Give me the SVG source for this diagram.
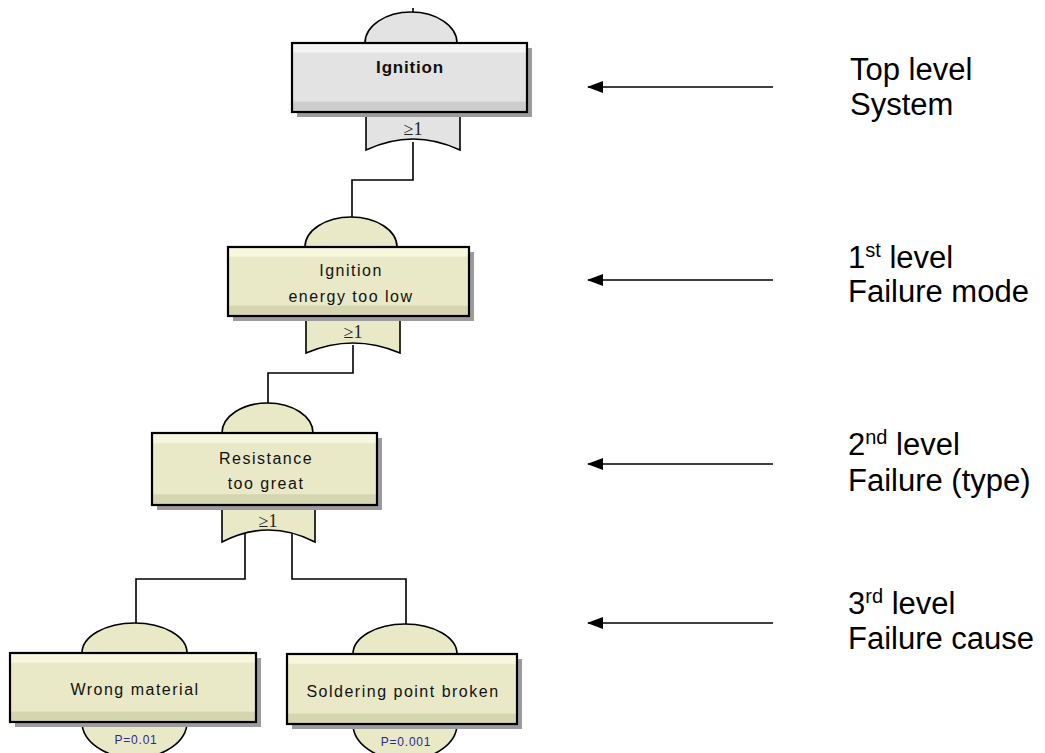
<svg xmlns="http://www.w3.org/2000/svg" width="1045" height="753" viewBox="0 0 1045 753">
<defs>
<linearGradient id="gy" x1="0" y1="0" x2="0" y2="1">
<stop offset="0" stop-color="#f7f7de"/><stop offset="0.13" stop-color="#f7f7de"/>
<stop offset="0.15" stop-color="#e9e9c7"/><stop offset="0.84" stop-color="#e9e9c7"/>
<stop offset="0.86" stop-color="#d5d5b0"/><stop offset="1" stop-color="#d5d5b0"/>
</linearGradient>
<linearGradient id="gg" x1="0" y1="0" x2="0" y2="1">
<stop offset="0" stop-color="#f4f4f4"/><stop offset="0.13" stop-color="#f4f4f4"/>
<stop offset="0.15" stop-color="#e3e3e3"/><stop offset="0.84" stop-color="#e3e3e3"/>
<stop offset="0.86" stop-color="#cdcdcd"/><stop offset="1" stop-color="#cdcdcd"/>
</linearGradient>
<marker id="ah" viewBox="0 0 16 12" refX="15" refY="6" markerWidth="16" markerHeight="12" markerUnits="userSpaceOnUse" orient="auto">
<path d="M0,0 L16,6 L0,12 Z" fill="#000"/>
</marker>
</defs>
<style>
.shape{stroke:#000;stroke-width:1.6}
.yel{fill:#e9e9c7}
.gry{fill:#e3e3e3}
.box{stroke:#000;stroke-width:2.2}
.shadow{fill:#9c9c9c}
.lbl{font-family:"Liberation Sans",Arial,sans-serif;font-size:16px;letter-spacing:1.5px;fill:#111;text-anchor:middle}
.bold{font-weight:bold;font-size:17px;letter-spacing:0.8px}
.gate{font-family:"Liberation Serif","Times New Roman",serif;font-size:18px;fill:#222;text-anchor:middle}
.prob{font-family:"Liberation Sans",Arial,sans-serif;font-size:12px;letter-spacing:0.8px;fill:#2a2a8c;text-anchor:middle}
.lvl{font-family:"Liberation Sans",Arial,sans-serif;font-size:31px;fill:#000}
.sup{font-size:20px}
.wire{fill:none;stroke:#000;stroke-width:1.6}
.arrow{fill:none;stroke:#000;stroke-width:1.6;marker-end:url(#ah)}
</style>
<g id="connectors">
<line class="wire" x1="413" y1="8" x2="413" y2="12"/>
<polyline class="wire" points="413,142 413,180 352,180 352,217"/>
<polyline class="wire" points="353,345 353,373 268,373 268,403"/>
<polyline class="wire" points="245,533 245,579 136,579 136,623"/>
<polyline class="wire" points="292,533 292,579 406,579 406,624"/>
<line class="arrow" x1="773" y1="87" x2="588" y2="87"/>
<line class="arrow" x1="773" y1="280" x2="588" y2="280"/>
<line class="arrow" x1="773" y1="464" x2="588" y2="464"/>
<line class="arrow" x1="773" y1="623" x2="588" y2="623"/>
</g>
<g id="node-ignition">
<path class="shape gry" d="M366,110 L366,150 Q413,128 460,150 L460,110 Z"/>
<path class="shape gry" d="M365,43 A46,31 0 0 1 457,43 Z"/>
<rect class="shadow" x="297" y="48" width="235" height="69"/>
<rect class="box" x="292" y="43" width="235" height="69" fill="url(#gg)"/>
<text class="lbl bold" x="410" y="73">Ignition</text>
<text class="gate" x="413" y="135">≥1</text>
</g>
<g id="node-energy">
<path class="shape yel" d="M306,314 L306,353 Q353,333 400,353 L400,314 Z"/>
<path class="shape yel" d="M305,247 A46,30 0 0 1 397,247 Z"/>
<rect class="shadow" x="233" y="252" width="241" height="69"/>
<rect class="box" x="228" y="247" width="241" height="69" fill="url(#gy)"/>
<text class="lbl" x="351" y="276">Ignition</text>
<text class="lbl" x="351" y="302">energy too low</text>
<text class="gate" x="353" y="338">≥1</text>
</g>
<g id="node-resistance">
<path class="shape yel" d="M222,503 L222,542 Q268.5,518 315,542 L315,503 Z"/>
<path class="shape yel" d="M222,433 A45.5,30 0 0 1 313,433 Z"/>
<rect class="shadow" x="157" y="438" width="225" height="72"/>
<rect class="box" x="152" y="433" width="225" height="72" fill="url(#gy)"/>
<text class="lbl" x="266" y="464">Resistance</text>
<text class="lbl" x="266" y="489">too great</text>
<text class="gate" x="268" y="527">≥1</text>
</g>
<g id="node-material">
<path class="shape yel" d="M82,653 A52.5,30 0 0 1 187,653 L187,722 A52.5,36 0 0 1 82,722 Z"/>
<rect class="shadow" x="15" y="658" width="246" height="69"/>
<rect class="box" x="10" y="653" width="246" height="69" fill="url(#gy)"/>
<text class="lbl" x="135" y="695">Wrong material</text>
<text class="prob" x="136" y="744">P=0.01</text>
</g>
<g id="node-soldering">
<path class="shape yel" d="M353,654 A52,30 0 0 1 457,654 L457,724 A52,36 0 0 1 353,724 Z"/>
<rect class="shadow" x="292" y="659" width="230" height="70"/>
<rect class="box" x="287" y="654" width="230" height="70" fill="url(#gy)"/>
<text class="lbl" x="403" y="697">Soldering point broken</text>
<text class="prob" x="406" y="746">P=0.001</text>
</g>
<g id="label-top">
<text class="lvl" x="850" y="80">Top level</text>
<text class="lvl" x="850" y="115">System</text>
</g>
<g id="label-1st">
<text class="lvl" x="848" y="268">1<tspan class="sup" dy="-11">st</tspan><tspan dy="11"> level</tspan></text>
<text class="lvl" x="848" y="302">Failure mode</text>
</g>
<g id="label-2nd">
<text class="lvl" x="848" y="455">2<tspan class="sup" dy="-11">nd</tspan><tspan dy="11"> level</tspan></text>
<text class="lvl" x="848" y="491">Failure (type)</text>
</g>
<g id="label-3rd">
<text class="lvl" x="848" y="614">3<tspan class="sup" dy="-11">rd</tspan><tspan dy="11"> level</tspan></text>
<text class="lvl" x="848" y="649">Failure cause</text>
</g>
</svg>
